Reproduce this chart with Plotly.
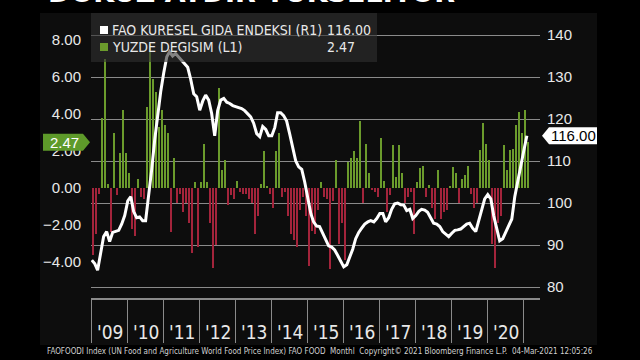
import pandas as pd
import plotly.graph_objects as go

# ---------------- data ----------------
start_month = "2009-01-01"

fao_index = [
    # 2009
    86.4, 85.5, 84.0, 88.0, 92.0, 93.2, 90.8, 93.0, 93.2, 93.5, 95.0, 97.0,
    # 2010
    100.5, 101.5, 98.0, 96.5, 96.7, 95.8, 95.8, 101.5, 108.0, 115.0, 121.0, 126.5,
    # 2011
    131.0, 134.8, 136.0, 135.0, 135.6, 134.8, 134.0, 133.3, 132.3, 129.5, 126.0, 125.3,
    # 2012
    122.1, 124.3, 125.7, 124.5, 121.3, 116.0, 122.0, 124.5, 124.9, 124.0, 123.7, 123.2,
    # 2013
    122.9, 122.7, 122.5, 122.0, 121.3, 120.5, 119.0, 116.5, 115.8, 118.2, 117.5, 116.0,
    # 2014
    116.0, 118.0, 121.5, 121.5, 120.8, 119.5, 116.5, 113.0, 110.0, 108.6, 108.0, 105.0,
    # 2015
    101.0, 97.5, 95.5, 94.5, 94.4, 92.8, 91.0, 89.8, 89.5, 88.8, 87.5, 86.3,
    # 2016
    84.8, 85.3, 87.0, 89.0, 91.5, 93.0, 94.0, 95.0, 95.5, 95.8, 95.5, 96.3,
    # 2017
    97.5, 97.5, 95.5, 96.5, 98.5, 99.8, 100.0, 99.6, 99.5, 98.2, 98.5, 96.3,
    # 2018
    97.0, 98.0, 98.5, 98.3, 97.8, 96.5, 95.2, 95.0, 94.4, 93.2, 92.5, 92.0,
    # 2019
    92.8, 93.5, 93.6, 93.8, 94.4, 95.0, 95.2, 94.0, 93.2, 96.0, 98.5, 101.0,
    # 2020
    102.0, 101.0, 97.0, 93.6, 91.0, 91.5, 93.0, 94.5, 96.2, 101.5, 105.5, 108.6,
    # 2021
    112.5, 116.0,
]

pct_change = [
    # 2009
    -3.6, -2.5, -0.3, 3.8, 7.0, 0.2, -2.4, 3.0, -0.4, 1.9, 4.2, 1.9,
    # 2010
    0.8, -2.2, -2.6, 0.5, -0.5, -0.6, 4.4, 7.8, 5.9, 5.2, 3.3, 4.2,
    # 2011
    3.4, 3.0, -2.4, 1.6, -0.8, -0.3, -1.3, -0.8, -1.9, -3.5, 0.35, -3.2,
    # 2012
    0.3, 2.4, 0.3, -1.9, -4.3, -3.1, 5.4, 1.0, 1.5, -0.9, -0.4, -0.6,
    # 2013
    0.4, -0.2, -0.3, -0.3, -0.6, -0.8, -2.5, -1.5, 0.2, 2.0, 0.1, -0.3,
    # 2014
    -1.1, 2.0, 3.0, -0.5, -0.2, -1.5, -2.5, -2.8, -3.2, -1.2, -0.5, -1.5,
    # 2015
    -4.2, -2.3, -2.5, -1.2, 0.35, -0.5, -0.6, -4.4, -0.7, 1.5, -3.0, -1.9,
    # 2016
    -3.9, 1.4, 1.6, 2.0, 1.6, 3.6, -0.8, 2.4, 0.8, -0.1, -0.2, -0.5,
    # 2017
    2.7, 0.4, -1.3, -0.4, 2.3, 0.6, 2.3, 0.8, -0.8, -0.5, -0.2, -2.5,
    # 2018
    0.3, 1.1, 1.2, -0.5, 0.15, -1.1, -1.7, 1.0, -1.7, -1.3, -1.2, 0.1,
    # 2019
    1.15, 0.8, -0.8, 0.5, 0.7, 1.2, -0.3, -1.1, -0.8, 2.05, 3.5, 2.4,
    # 2020
    1.5, -3.0, -4.3, -1.9, -1.5, 2.3, 1.0, 2.05, 2.1, 3.4, 4.1, 3.0,
    # 2021
    4.2, 2.47,
]

years = list(range(2009, 2021))
year_labels = ["'09", "'10", "'11", "'12", "'13", "'14", "'15", "'16", "'17", "'18", "'19", "'20"]
left_ticks = [-4, -2, 0, 2, 4, 6, 8]
right_ticks = [80, 90, 100, 110, 120, 130, 140]

line_name = "FAO KURESEL GIDA ENDEKSI (R1)"
bar_name = "YUZDE DEGISIM (L1)"
title_text = "DOKUZ AYDIR YÜKSELİYOR"
footer_text = ("FAOFOODI Index (UN Food and Agriculture World Food Price Index) FAO FOOD  Monthl  "
               "Copyright© 2021 Bloomberg Finance L.P.  04-Mar-2021 12:05:26")

# ---------------- styling ----------------
W, H = 640, 360
L, R, T, B = 91, 100, 20, 62          # plot area: x 91..540, y 20..298
PW, PH = W - L - R, H - T - B

def px(xp):   # pixel x -> paper x
    return (xp - L) / PW

def py(yp):   # pixel y -> paper y
    return (H - B - yp) / PH

GREEN = "#6b9b2c"
RED = "#a3243b"
GRID = "#8a8a8a"
TXT = "#e8e8e8"
NARROW = "Liberation Sans Narrow, Arial Narrow, DejaVu Sans Condensed, Roboto Condensed, sans-serif"
REG = "Liberation Sans, Arial, sans-serif"

dates = pd.date_range(start_month, periods=len(fao_index), freq="MS")
bar_colors = [GREEN if v >= 0 else RED for v in pct_change]

fig = go.Figure()
fig.add_trace(go.Bar(
    x=dates, y=pct_change, yaxis="y", marker=dict(color=bar_colors, line=dict(width=0)),
    width=7.5e8, xperiod="M1", xperiodalignment="middle", showlegend=False, hoverinfo="skip",
))
fig.add_trace(go.Scatter(
    x=dates, y=fao_index, yaxis="y2", mode="lines",
    line=dict(color="white", width=3), showlegend=False, hoverinfo="skip",
))

# axis ranges derived from the reference geometry
y_range = [-(298 - 188) / 18.5, (188 - 20) / 18.5]
y2_range = [80 - (298 - 287) / 4.2, 80 + (287 - 20) / 4.2]

fig.update_layout(
    width=W, height=H, autosize=False,
    margin=dict(l=L, r=R, t=T, b=B, pad=0),
    paper_bgcolor="#000000", plot_bgcolor="#0d0d0d",
    bargap=0,
    xaxis=dict(
        type="date", range=["2008-12-24", "2021-06-14"],
        tickvals=[f"{y}-01-01" for y in years + [2021]],
        ticks="outside", ticklen=43, tickwidth=1, tickcolor=GRID,
        showticklabels=False, showgrid=False, zeroline=False,
        showline=True, linecolor=GRID, linewidth=2,
    ),
    yaxis=dict(
        range=y_range, tickvals=left_ticks, tickformat=".2f",
        showgrid=False, zeroline=False, showline=False,
        ticks="outside", ticklen=6, tickcolor="rgba(0,0,0,0)",
        tickfont=dict(family=REG, size=15, color=TXT),
    ),
    yaxis2=dict(
        range=y2_range, tickvals=right_ticks, overlaying="y", side="right",
        showgrid=True, gridcolor=GRID, gridwidth=1, zeroline=False, showline=False,
        ticks="outside", ticklen=3, tickcolor="rgba(0,0,0,0)",
        tickfont=dict(family=REG, size=15, color=TXT),
    ),
)

shapes = []
# dark panel behind the chart
shapes.append(dict(type="rect", xref="paper", yref="paper", x0=px(40), x1=px(597), y0=py(345), y1=py(13),
                   fillcolor="#0d0d0d", line=dict(width=0), layer="below"))
# legend box (semi transparent, above the traces)
shapes.append(dict(type="rect", xref="paper", yref="paper", x0=px(91), x1=px(377), y0=py(62), y1=py(13),
                   fillcolor="rgba(48,48,48,0.6)", line=dict(width=0), layer="above"))
shapes.append(dict(type="rect", xref="paper", yref="paper", x0=px(100), x1=px(108), y0=py(34), y1=py(26),
                   fillcolor="white", line=dict(width=0), layer="above"))
shapes.append(dict(type="rect", xref="paper", yref="paper", x0=px(100), x1=px(108), y0=py(51), y1=py(43),
                   fillcolor=GREEN, line=dict(width=0), layer="above"))

# last-value tags
lv_bar = pct_change[-1]
hb = 8.5 / 18.5
shapes.append(dict(type="path", xref="paper", yref="y", layer="above", fillcolor="#5e9a2a", line=dict(width=0),
                   path=(f"M {px(43)},{lv_bar + hb} L {px(83)},{lv_bar + hb} L {px(90)},{lv_bar} "
                         f"L {px(83)},{lv_bar - hb} L {px(43)},{lv_bar - hb} Z")))
lv_line = fao_index[-1]
hl = 8.5 / 4.2
shapes.append(dict(type="path", xref="paper", yref="y2", layer="above", fillcolor="white", line=dict(width=0),
                   path=(f"M {px(542)},{lv_line} L {px(549)},{lv_line + hl} L {px(597)},{lv_line + hl} "
                         f"L {px(597)},{lv_line - hl} L {px(549)},{lv_line - hl} Z")))
fig.update_layout(shapes=shapes)

ann = []
ann.append(dict(xref="paper", yref="y", x=px(64), y=lv_bar, text=f"{lv_bar:.2f}", showarrow=False,
                xanchor="center", yanchor="middle", font=dict(family=REG, size=15, color="white")))
ann.append(dict(xref="paper", yref="y2", x=px(573), y=lv_line, text=f"{lv_line:.2f}", showarrow=False,
                xanchor="center", yanchor="middle", font=dict(family=REG, size=15, color="black")))
# legend texts
ann.append(dict(xref="paper", yref="paper", x=px(110), y=py(30), text=line_name, showarrow=False,
                xanchor="left", yanchor="middle", font=dict(family=NARROW, size=14, color=TXT)))
ann.append(dict(xref="paper", yref="paper", x=px(110), y=py(47), text=bar_name, showarrow=False,
                xanchor="left", yanchor="middle", font=dict(family=NARROW, size=14, color=TXT)))
ann.append(dict(xref="paper", yref="paper", x=px(325), y=py(30), text=f"{lv_line:.2f}", showarrow=False,
                xanchor="left", yanchor="middle", font=dict(family=NARROW, size=14, color=TXT)))
ann.append(dict(xref="paper", yref="paper", x=px(325), y=py(47), text=f"{lv_bar:.2f}", showarrow=False,
                xanchor="left", yanchor="middle", font=dict(family=NARROW, size=14, color=TXT)))
# year labels centred in each year
for yr, lab in zip(years, year_labels):
    ann.append(dict(xref="x", yref="paper", x=f"{yr}-07-02", y=py(332), text=lab, showarrow=False,
                    xanchor="center", yanchor="middle", font=dict(family=NARROW, size=19, color=TXT)))
# footer
ann.append(dict(xref="paper", yref="paper", x=px(45), y=py(351), text=footer_text, showarrow=False,
                xanchor="left", yanchor="middle", font=dict(family=NARROW, size=8, color="#d0d0d0")))
# clipped headline at the very top
ann.append(dict(xref="paper", yref="paper", x=px(46), y=py(-7.5), text=f"<b>{title_text}</b>", showarrow=False,
                xanchor="left", yanchor="middle", font=dict(family="DejaVu Sans", size=27, color="white")))
fig.update_layout(annotations=ann)

fig.write_html("out.html", config={"displayModeBar": False},
               post_script="document.body.style.margin='0px';document.body.style.overflow='hidden';")
